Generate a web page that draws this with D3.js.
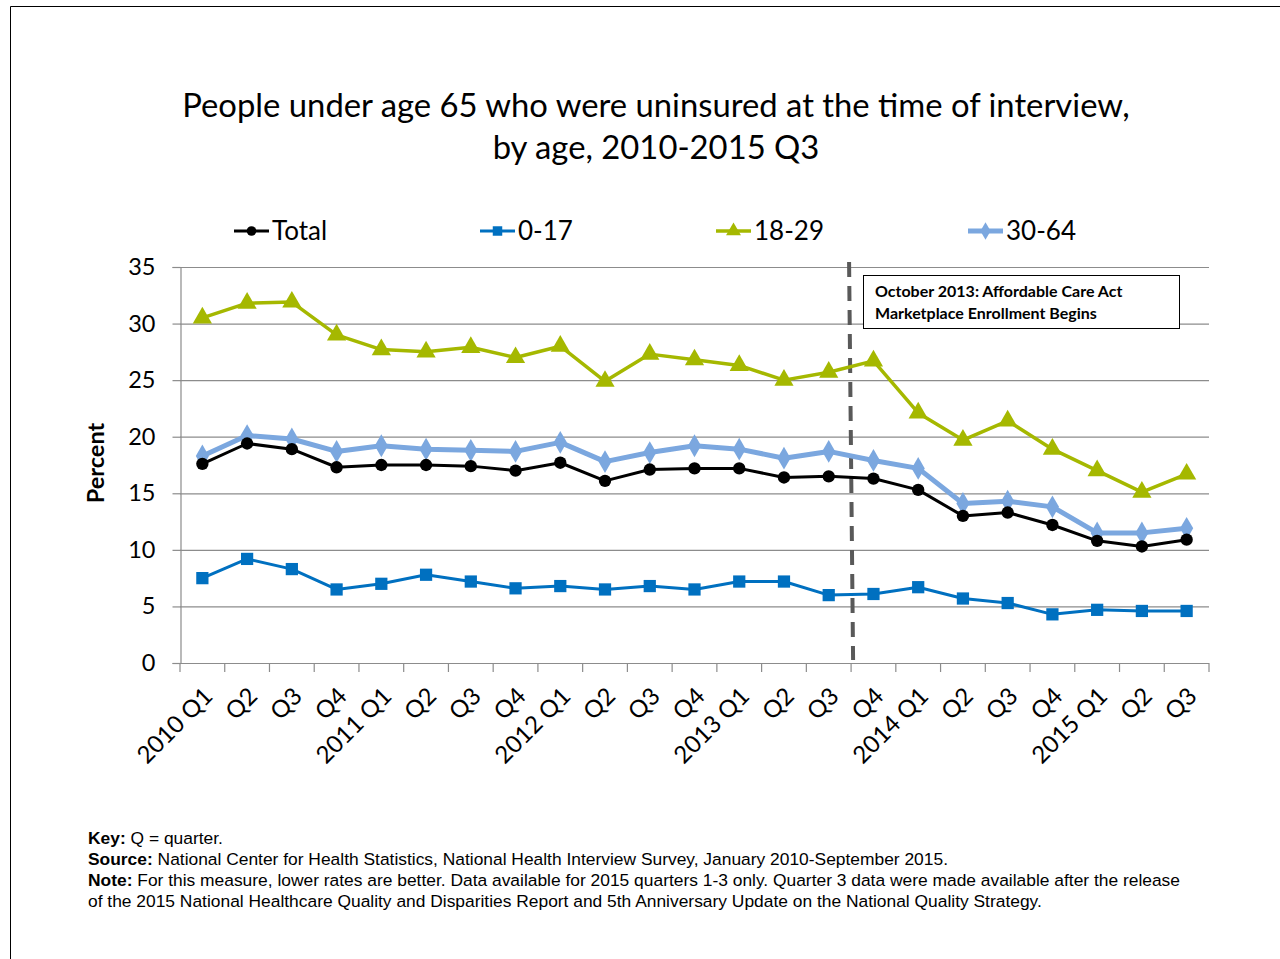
<!DOCTYPE html>
<html>
<head>
<meta charset="utf-8">
<script src="https://cdn.jsdelivr.net/npm/d3@7/dist/d3.min.js"></script>
<style>
  html, body { margin: 0; padding: 0; background: #fff; }
  svg { display: block; }
</style>
</head>
<body>
<svg id="chart" width="1280" height="959"></svg>
<script>
// Quarterly categories, 2010 Q1 – 2015 Q3
const quarters = [
  "2010 Q1","Q2","Q3","Q4",
  "2011 Q1","Q2","Q3","Q4",
  "2012 Q1","Q2","Q3","Q4",
  "2013 Q1","Q2","Q3","Q4",
  "2014 Q1","Q2","Q3","Q4",
  "2015 Q1","Q2","Q3"
];

// Percent uninsured, by age group
const total   = [17.6,19.4,18.9,17.3, 17.5,17.5,17.4,17.0, 17.7,16.1,17.1,17.2, 17.2,16.4,16.5,16.3, 15.3,13.0,13.3,12.2, 10.8,10.3,10.9];
const age0_17 = [7.5,9.2,8.3,6.5, 7.0,7.8,7.2,6.6, 6.8,6.5,6.8,6.5, 7.2,7.2,6.0,6.1, 6.7,5.7,5.3,4.3, 4.7,4.6,4.6];
const age18_29= [30.5,31.8,31.9,29.0, 27.7,27.5,27.9,27.0, 28.0,24.9,27.3,26.8, 26.3,25.0,25.7,26.7, 22.1,19.7,21.4,18.9, 17.0,15.1,16.7];
const age30_64= [18.3,20.1,19.8,18.7, 19.2,18.9,18.8,18.7, 19.5,17.8,18.6,19.2, 18.9,18.1,18.7,17.9, 17.2,14.1,14.3,13.8, 11.5,11.5,11.9];

const yTicks = [0,5,10,15,20,25,30,35];

const seriesNames = ["Total","0-17","18-29","30-64"];

const svg = d3.select("#chart");
const font = "Lato, 'Open Sans', sans-serif";

// slide frame
svg.append("path")
  .attr("d", "M10.5,959 L10.5,6.5 L1280,6.5")
  .attr("fill","none").attr("stroke","#000").attr("stroke-width",1);

// title
const title = svg.append("text")
  .attr("x", 656).attr("text-anchor","middle")
  .attr("font-family", font).attr("font-size", 32.8).attr("fill","#000");
title.append("tspan").attr("x",656).attr("y",117).text("People under age 65 who were uninsured at the time of interview,");
title.append("tspan").attr("x",656).attr("y",159).text("by age, 2010-2015 Q3");

const m = {left: 180, right: 1209, top: 267, bottom: 663};

const x = d3.scaleBand().domain(d3.range(quarters.length)).range([m.left, m.right]);
const y = d3.scaleLinear().domain([0,35]).range([m.bottom, m.top]);
const cx = i => x(i) + x.bandwidth()/2;

// gridlines
svg.append("g").selectAll("line").data(yTicks.filter(t => t > 0)).join("line")
  .attr("x1", m.left).attr("x2", m.right)
  .attr("y1", d => y(d)+0.5).attr("y2", d => y(d)+0.5)
  .attr("stroke","#8c8c8c").attr("stroke-width",1.2);

// y axis
const yAxis = svg.append("g").attr("transform", `translate(${m.left+0.5},0)`)
  .call(d3.axisLeft(y).tickValues(yTicks).tickSize(8).tickPadding(17));
yAxis.select(".domain").attr("stroke","#8c8c8c").attr("stroke-width",1.2);
yAxis.selectAll(".tick line").attr("stroke","#8c8c8c").attr("stroke-width",1.2);
yAxis.selectAll(".tick text").attr("font-family", font).attr("font-size", 23.5).attr("fill","#000");

// x axis: ticks at category boundaries
const bounds = d3.range(quarters.length + 1).map(i => m.left + i * x.bandwidth());
const xg = svg.append("g");
xg.append("line").attr("x1", m.left).attr("x2", m.right)
  .attr("y1", m.bottom+0.5).attr("y2", m.bottom+0.5)
  .attr("stroke","#8c8c8c").attr("stroke-width",1.2);
xg.selectAll("line.tk").data(bounds).join("line").attr("class","tk")
  .attr("x1", d => d).attr("x2", d => d)
  .attr("y1", m.bottom).attr("y2", m.bottom+9)
  .attr("stroke","#8c8c8c").attr("stroke-width",1.2);
xg.selectAll("text").data(quarters).join("text")
  .attr("transform", (d,i) => `translate(${cx(i)-1},${m.bottom+22}) rotate(-45)`)
  .attr("text-anchor","end").attr("dy","0.75em")
  .attr("font-family", font).attr("font-size", 24).attr("fill","#000")
  .text(d => d);

// y axis title
svg.append("text")
  .attr("transform", `translate(104,463) rotate(-90)`)
  .attr("text-anchor","middle")
  .attr("font-family", font).attr("font-weight","bold").attr("font-size", 23.5)
  .text("Percent");

// ACA marketplace enrollment marker
const acaX = m.left + 15 * x.bandwidth();
svg.append("line")
  .attr("x1", acaX - 2).attr("x2", acaX + 2)
  .attr("y1", 262).attr("y2", 660)
  .attr("stroke","#595959").attr("stroke-width",4)
  .attr("stroke-dasharray","15,9");

svg.append("rect")
  .attr("x", 863.5).attr("y", 275.5).attr("width", 316).attr("height", 53)
  .attr("fill","#fff").attr("stroke","#000").attr("stroke-width",1);
const note = svg.append("text").attr("font-family", font).attr("font-weight","bold")
  .attr("font-size", 16).attr("fill","#000");
note.append("tspan").attr("x",875).attr("y",297).text("October 2013: Affordable Care Act");
note.append("tspan").attr("x",875).attr("y",319).text("Marketplace Enrollment Begins");

// series definitions
const series = [
  {name: seriesNames[0], values: total,    color: "#000000", width: 3,   symbol: d3.symbolCircle,   size: 120},
  {name: seriesNames[1], values: age0_17,  color: "#0070C0", width: 3,   symbol: d3.symbolSquare,   size: 150},
  {name: seriesNames[2], values: age18_29, color: "#A5B800", width: 3.5, symbol: d3.symbolTriangle, size: 160},
  {name: seriesNames[3], values: age30_64, color: "#7BA7DF", width: 5,   symbol: d3.symbolDiamond,  size: 150}
];

const line = d3.line().x((d,i) => cx(i)).y(d => y(d));

// draw order: 18-29, 0-17, 30-64, Total on top
const order = [2,1,3,0];
order.forEach(k => {
  const s = series[k];
  const g = svg.append("g");
  g.append("path").datum(s.values)
    .attr("d", line).attr("fill","none")
    .attr("stroke", s.color).attr("stroke-width", s.width)
    .attr("stroke-linejoin","round");
  g.selectAll("path.mk").data(s.values).join("path").attr("class","mk")
    .attr("transform", (d,i) => `translate(${cx(i)},${y(d)})`)
    .attr("d", d3.symbol().type(s.symbol).size(s.size))
    .attr("fill", s.color);
});

// legend
const legendX = [234, 480, 716, 968];
series.forEach((s, k) => {
  const g = svg.append("g").attr("transform", `translate(${legendX[k]},231)`);
  g.append("line").attr("x1",0).attr("x2",35).attr("y1",0).attr("y2",0)
    .attr("stroke", s.color).attr("stroke-width", s.width);
  g.append("path").attr("transform","translate(17.5,0)")
    .attr("d", d3.symbol().type(s.symbol).size(s.size * 0.6))
    .attr("fill", s.color);
  g.append("text").attr("x", 38).attr("y", 9)
    .attr("font-family", font).attr("font-size", 26).attr("fill","#000")
    .text(s.name);
});

// footnotes
const foot = [
  [["Key:", true], [" Q = quarter.", false]],
  [["Source:", true], [" National Center for Health Statistics, National Health Interview Survey, January 2010-September 2015.", false]],
  [["Note:", true], [" For this measure, lower rates are better. Data available for 2015 quarters 1-3 only. Quarter 3 data were made available after the release", false]],
  [["of the 2015 National Healthcare Quality and Disparities Report and 5th Anniversary Update on the National Quality Strategy.", false]]
];
foot.forEach((parts, i) => {
  const t = svg.append("text").attr("x", 88).attr("y", 844 + i * 21)
    .attr("font-family", "'Liberation Sans', Arial, sans-serif").attr("font-size", 17.4).attr("fill","#000");
  parts.forEach(([txt, bold]) => {
    t.append("tspan").attr("font-weight", bold ? "bold" : "normal").text(txt);
  });
});
</script>
</body>
</html>
